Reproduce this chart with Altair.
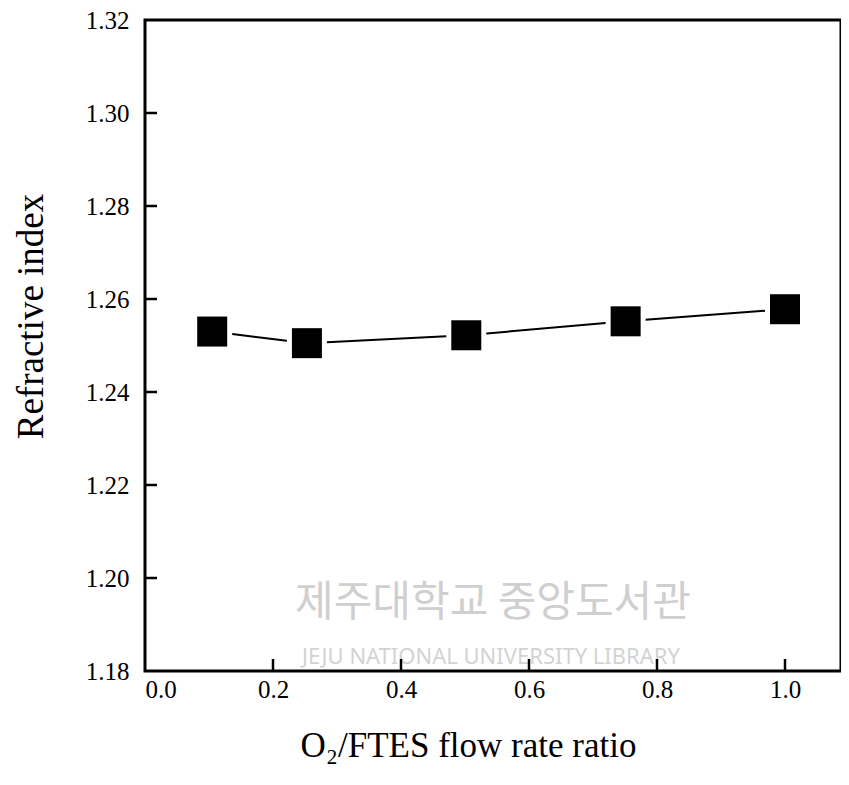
import altair as alt
import pandas as pd

# data
ratio = [0.105, 0.253, 0.502, 0.751, 1.0]
refractive_index = [1.2530, 1.2505, 1.2522, 1.2552, 1.2578]

x_ticks = [0.2, 0.4, 0.6, 0.8, 1.0]
y_ticks = [1.20, 1.22, 1.24, 1.26, 1.28, 1.30]
x_labels = [0.0, 0.2, 0.4, 0.6, 0.8, 1.0]
y_labels = [1.18, 1.20, 1.22, 1.24, 1.26, 1.28, 1.30, 1.32]

df = pd.DataFrame({"ratio": ratio, "n": refractive_index})
dfx = pd.DataFrame({"t": x_ticks})
dfy = pd.DataFrame({"t": y_ticks})

FONT = "Liberation Serif"
W, H = 696, 651
XMAX = 696 / 640

xscale = alt.Scale(domain=[0, XMAX], nice=False, zero=False)
yscale = alt.Scale(domain=[1.18, 1.32], nice=False, zero=False)

xaxis = alt.Axis(
    values=x_labels, format=".1f", domain=False, ticks=False, grid=False,
    labelFont=FONT, labelFontSize=25, labelColor="black", labelPadding=6,
    title="O₂/FTES flow rate ratio", titleFont=FONT, titleFontSize=35,
    titleFontWeight="normal", titleColor="black",
    titleX=323, titleY=74, titleBaseline="middle", titleAlign="center",
)
yaxis = alt.Axis(
    values=y_labels, format=".2f", domain=False, ticks=False, grid=False,
    labelFont=FONT, labelFontSize=25, labelColor="black", labelPadding=16,
    title="Refractive index", titleFont=FONT, titleFontSize=37,
    titleFontWeight="normal", titleColor="black",
    titleX=-114, titleY=296, titleAngle=270, titleBaseline="middle", titleAlign="center",
)

base = alt.Chart(df)

line = base.mark_line(color="black", strokeWidth=2).encode(
    x=alt.X("ratio:Q", scale=xscale, axis=xaxis),
    y=alt.Y("n:Q", scale=yscale, axis=yaxis),
)
halo = base.mark_point(shape="square", filled=True, color="white", size=1600, opacity=1).encode(
    x=alt.X("ratio:Q", scale=xscale), y=alt.Y("n:Q", scale=yscale)
)
squares = base.mark_point(shape="square", filled=True, color="black", size=900, opacity=1).encode(
    x=alt.X("ratio:Q", scale=xscale), y=alt.Y("n:Q", scale=yscale)
)

xt = alt.Chart(dfx).mark_rule(color="black", strokeWidth=2.5).encode(
    x=alt.X("t:Q", scale=xscale), y=alt.value(H), y2=alt.value(H - 12)
)
yt = alt.Chart(dfy).mark_rule(color="black", strokeWidth=2.5).encode(
    y=alt.Y("t:Q", scale=yscale), x=alt.value(0), x2=alt.value(12)
)

wm = pd.DataFrame({"a": [0]})
wm_kr = alt.Chart(wm).mark_text(
    text="제주대학교 중앙도서관", font="Noto Sans CJK KR", fontSize=42,
    color="#cfcfcf", align="center", baseline="middle"
).encode(x=alt.value(348), y=alt.value(583))
wm_en = alt.Chart(wm).mark_text(
    text="JEJU NATIONAL UNIVERSITY  LIBRARY", font="Noto Sans", fontSize=22,
    color="#d3d3d3", align="center", baseline="middle"
).encode(x=alt.value(346), y=alt.value(637))

chart = alt.layer(wm_kr, wm_en, line, halo, squares, xt, yt).properties(
    width=W, height=H,
    autosize="none",
    padding={"left": 137, "top": 12, "right": 0, "bottom": 100},
).configure_view(stroke="black", strokeWidth=3)

chart.save("out.html", embed_options={"renderer": "svg", "actions": False})
